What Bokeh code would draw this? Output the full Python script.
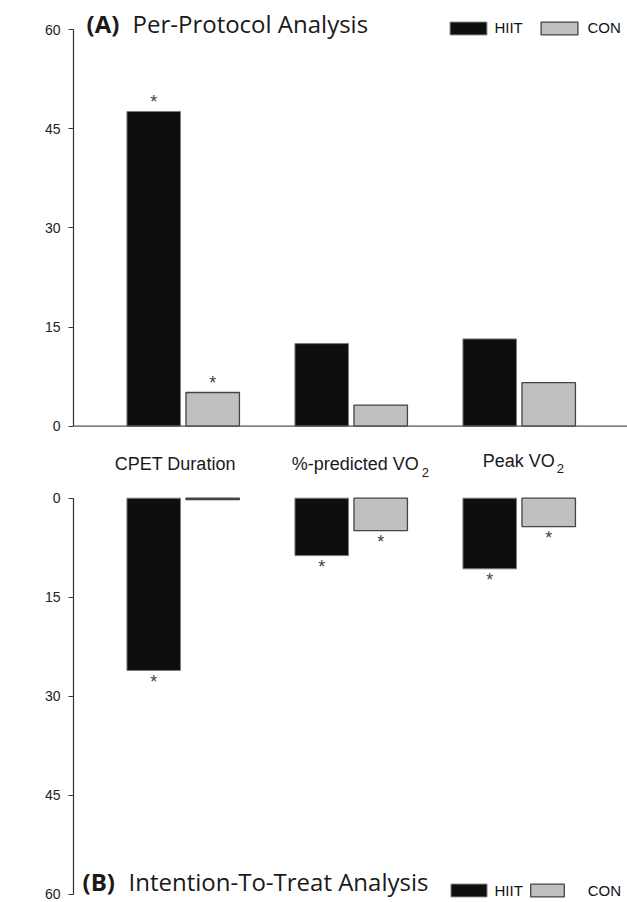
from bokeh.plotting import figure
from bokeh.models import (Range1d, ColumnDataSource, Span, Label, Legend,
                          LegendItem, FixedTicker)
from bokeh.layouts import column
from bokeh.embed import file_html
from bokeh.resources import INLINE
from bokeh.core.properties import value

# ---------------- data ----------------
categories = ["CPET Duration", "%-predicted VO2", "Peak VO2"]
label_main = ["CPET Duration", "%-predicted VO", "Peak VO"]
label_sub = ["", "2", "2"]
groups = ["HIIT", "CON"]

pp_hiit = [47.6, 12.5, 13.2]     # (A) per-protocol, % change
pp_con = [5.1, 3.2, 6.6]
itt_hiit = [26.1, 8.7, 10.7]     # (B) intention-to-treat, % change
itt_con = [0.2, 4.9, 4.3]

pp_sig_hiit = [True, False, False]
pp_sig_con = [True, False, False]
itt_sig_hiit = [True, True, True]
itt_sig_con = [False, True, True]

y_ticks = [0, 15, 30, 45, 60]

# ---------------- layout / style constants ----------------
W = 627
LEFT = 73                 # frame left border (px)
FRAME_X = LEFT            # page x of frame left
UNIT = 168.0              # px per category
X0 = -0.653
X1 = X0 + (W - LEFT) / UNIT
H1, H2 = 482, 420
PPU1, PPU2 = 6.612, 6.60
Y1_END = 60 + 29 / PPU1
Y1_START = Y1_END - H1 / PPU1
Y2_TOP = -15.7 / PPU2
Y2_BOT = Y2_TOP + H2 / PPU2
OFF = 29.5 / UNIT
BW = 53.5 / UNIT
BASE_FIX = 0.4            # alphabetic baseline correction (em)

HIIT_FILL, HIIT_LINE = "#0e0e0e", "#7a7a7a"
CON_FILL, CON_LINE = "#c0c0c0", "#444444"
AX = "#333333"
TXT = "#1a1a1a"
ARIAL = "Liberation Sans"
TITLE_FONT = "Open Sans"


def xpx(page_x):
    return X0 + (page_x - FRAME_X) / UNIT


def y1(px):
    return Y1_END - px / PPU1


def y2(px):
    return Y2_TOP + px / PPU2


def make_fig(h, yr):
    p = figure(width=W, height=h, x_range=Range1d(X0, X1), y_range=yr,
               output_backend="svg", toolbar_location=None,
               x_axis_location=None, y_axis_location="left",
               min_border=0, min_border_left=LEFT, outline_line_color=None,
               background_fill_color="white", border_fill_color="white")
    p.grid.grid_line_color = None
    ax = p.yaxis[0]
    ax.ticker = FixedTicker(ticks=y_ticks)
    ax.bounds = (0, 60)
    ax.major_tick_out = 5
    ax.major_tick_in = 0
    ax.minor_tick_line_color = None
    ax.axis_line_color = AX
    ax.axis_line_width = 1.2
    ax.major_tick_line_color = AX
    ax.major_tick_line_width = 1.2
    ax.major_label_text_font = ARIAL
    ax.major_label_text_font_size = "14px"
    ax.major_label_text_color = "#222222"
    ax.major_label_standoff = 8
    return p


def add_bars(p, hiit, con, sig_h, sig_c, star_off):
    idx = list(range(len(categories)))
    src = ColumnDataSource(dict(
        xh=[i - OFF for i in idx], xc=[i + OFF for i in idx],
        hiit=hiit, con=con, cat=categories))
    rh = p.vbar(x="xh", top="hiit", bottom=0, width=BW, source=src,
                fill_color=HIIT_FILL, line_color=HIIT_LINE, line_width=1)
    rc = p.vbar(x="xc", top="con", bottom=0, width=BW, source=src,
                fill_color=CON_FILL, line_color=CON_LINE, line_width=1.3)
    sx, sy = [], []
    for i in idx:
        if sig_h[i]:
            sx.append(i - OFF); sy.append(hiit[i])
        if sig_c[i]:
            sx.append(i + OFF); sy.append(con[i])
    p.text(x=sx, y=sy, text=["*"] * len(sx), text_align="center",
           text_baseline="alphabetic", y_offset=star_off,
           text_font=value(ARIAL), text_font_size=value("18px"),
           text_color="#444444")
    return rh, rc


def add_legend(p, r, label, sw_left, sw_right, text_left, center_px, fig_h):
    # legend glyph is drawn inset by 10% on each side
    gw = (sw_right - sw_left) / 0.8
    area_left = sw_left - 0.1 * gw
    gh = 16
    item_h = 16.8
    lg = Legend(items=[LegendItem(label=label, renderers=[r])],
                location=(area_left - FRAME_X, fig_h - center_px - item_h / 2),
                orientation="horizontal",
                glyph_width=int(round(gw)), glyph_height=gh, label_height=gh,
                label_standoff=int(round(text_left - (area_left + gw))),
                padding=0, margin=0, spacing=0,
                border_line_color=None, background_fill_alpha=0,
                label_text_font=ARIAL, label_text_font_size="15px",
                label_text_color="#111111")
    p.add_layout(lg)


def add_label(p, x, y, text, font, size, style="normal", baseline="alphabetic"):
    p.add_layout(Label(x=x, y=y, text=text, text_font=font,
                       text_font_size=size, text_font_style=style,
                       text_color=TXT, text_align="left",
                       text_baseline=baseline))


# ---------------- (A) per-protocol ----------------
p1 = make_fig(H1, Range1d(Y1_START, Y1_END))
p1.add_layout(Span(location=0, dimension="width", line_color="#555555",
                   line_width=1.3))
rh1, rc1 = add_bars(p1, pp_hiit, pp_con, pp_sig_hiit, pp_sig_con, -9)

# category labels (between the panels)
lab_dx = [-8, 67.5, 35.5]
lab_base = [471, 471, 468]
sub_dx = [0, 70.5, 37.5]
sub_base = [477, 477, 473]
n = len(categories)
plain = [i for i in range(n) if not label_sub[i]]
subbed = [i for i in range(n) if label_sub[i]]
c_src = ColumnDataSource(dict(
    x=plain, y=[y1(lab_base[i] - BASE_FIX * 18) for i in plain],
    t=[label_main[i] for i in plain], dx=[lab_dx[i] for i in plain]))
p1.text(x="x", y="y", text="t", x_offset="dx", source=c_src,
        text_align="center", text_baseline="alphabetic",
        text_font=value(ARIAL), text_font_size=value("18px"), text_color=TXT)
m_src = ColumnDataSource(dict(
    x=subbed, y=[y1(lab_base[i] - BASE_FIX * 18) for i in subbed],
    t=[label_main[i] for i in subbed], dx=[lab_dx[i] for i in subbed]))
p1.text(x="x", y="y", text="t", x_offset="dx", source=m_src,
        text_align="right", text_baseline="alphabetic",
        text_font=value(ARIAL), text_font_size=value("18px"), text_color=TXT)
sb_src = ColumnDataSource(dict(
    x=subbed, y=[y1(sub_base[i] - BASE_FIX * 13) for i in subbed],
    t=[label_sub[i] for i in subbed], dx=[sub_dx[i] for i in subbed]))
p1.text(x="x", y="y", text="t", x_offset="dx", source=sb_src,
        text_align="left", text_baseline="alphabetic",
        text_font=value(ARIAL), text_font_size=value("13px"), text_color=TXT)

add_label(p1, xpx(86), y1(33 - BASE_FIX * 24), "(A)", TITLE_FONT, "24px", "bold")
add_label(p1, xpx(132), y1(33 - BASE_FIX * 24), "Per-Protocol Analysis",
          TITLE_FONT, "24px")
add_label(p1, xpx(13), 0, "(%)", ARIAL, "14px", baseline="middle")
add_legend(p1, rh1, groups[0], 450, 487, 495, 27.8, H1)
add_legend(p1, rc1, groups[1], 541, 578, 588, 27.8, H1)

# ---------------- (B) intention-to-treat ----------------
p2 = make_fig(H2, Range1d(Y2_BOT, Y2_TOP))
rh2, rc2 = add_bars(p2, itt_hiit, itt_con, itt_sig_hiit, itt_sig_con, 11.5)
TB = 891 - H1 - BASE_FIX * 24
add_label(p2, xpx(82), y2(TB), "(B)", TITLE_FONT, "24px", "bold")
add_label(p2, xpx(128), y2(TB), "Intention-To-Treat Analysis", TITLE_FONT, "24px")
add_label(p2, xpx(13), 0, "(%)", ARIAL, "14px", baseline="middle")
add_legend(p2, rh2, groups[0], 450, 486, 495, 890.5 - H1, H2)
add_legend(p2, rc2, groups[1], 530, 564, 588, 890.5 - H1, H2)

layout = column(p1, p2)
open("out.html", "w").write(file_html(layout, INLINE))
